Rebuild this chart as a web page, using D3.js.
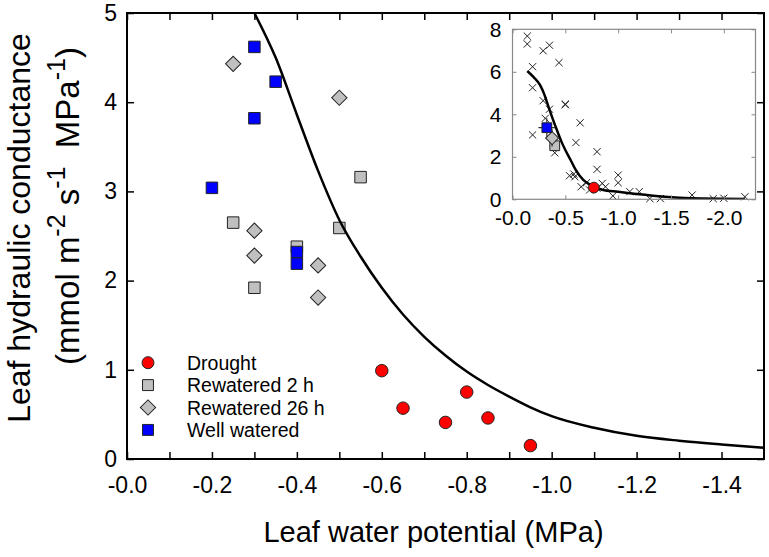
<!DOCTYPE html>
<html>
<head>
<meta charset="utf-8">
<script src="https://cdn.jsdelivr.net/npm/d3@7"></script>
<style>
    body { margin: 0; background: #fff; }
    svg { display: block; font-family: "Liberation Sans", Arial, sans-serif; }
</style>
</head>
<body>
<div class="chart"></div>
<script>
// Data - main panel (leaf water potential in MPa, conductance in mmol m-2 s-1 MPa-1)
const droughtPsi = [-0.60, -0.65, -0.75, -0.80, -0.85, -0.95];
const droughtK = [0.99, 0.57, 0.41, 0.75, 0.46, 0.15];
const rewatered2Psi = [-0.55, -0.25, -0.50, -0.40, -0.30];
const rewatered2K = [3.16, 2.65, 2.59, 2.38, 1.92];
const rewatered26Psi = [-0.25, -0.50, -0.30, -0.30, -0.45, -0.45];
const rewatered26K = [4.43, 4.05, 2.56, 2.28, 2.17, 1.81];
const wellPsi = [-0.30, -0.35, -0.30, -0.20, -0.40, -0.40];
const wellK = [4.62, 4.23, 3.82, 3.04, 2.32, 2.19];

// fitted curve
const fitPsi = [-0.30, -0.35, -0.40, -0.45, -0.50, -0.55, -0.60, -0.65, -0.70, -0.75, -0.80, -0.85, -0.90, -0.95, -1.00, -1.10, -1.20, -1.30, -1.40, -1.50];
const fitK = [5.00, 4.50, 3.86, 3.23, 2.68, 2.27, 1.92, 1.62, 1.37, 1.16, 0.98, 0.83, 0.70, 0.58, 0.48, 0.35, 0.26, 0.205, 0.163, 0.127];

// Data - inset (other data as crosses, group means with error bars)
const otherPsi = [-0.14, -0.14, -0.29, -0.35, -0.19, -0.44, -0.19, -0.29, -0.35, -0.50, -0.50, -0.31, -0.19, -0.64, -0.60, -0.40, -0.80, -0.54, -0.59, -0.58, -0.65, -0.80, -0.70, -1.00, -1.00, -0.95, -0.88, -0.85, -0.80, -0.73, -1.11, -1.20, -1.30, -1.40, -1.70, -1.90, -2.00, -2.20];
const otherK = [7.68, 7.31, 6.99, 7.25, 6.24, 6.43, 5.25, 4.64, 4.24, 4.48, 4.45, 3.81, 3.03, 3.60, 2.67, 2.19, 2.24, 1.11, 1.06, 1.19, 0.59, 1.41, 0.78, 1.14, 0.78, 0.16, 0.59, 0.75, 0.52, 0.44, 0.36, 0.36, 0.03, 0.03, 0.20, 0.03, 0.05, 0.12];
const insetFitPsi = [-0.14, -0.20, -0.26, -0.30, -0.34, -0.38, -0.42, -0.46, -0.50, -0.55, -0.60, -0.67, -0.75, -0.85, -1.00, -1.33, -1.70, -2.20];
const insetFitK = [6.04, 5.75, 5.38, 4.95, 4.36, 3.80, 3.26, 2.75, 2.32, 1.85, 1.37, 0.91, 0.64, 0.45, 0.35, 0.17, 0.05, 0.02];

const groups = ['Drought', 'Rewatered 2 h', 'Rewatered 26 h', 'Well watered'];
const groupFill = ['#ff0000', '#c0c0c0', '#c0c0c0', '#0000ff'];
const groupShape = ['circle', 'square', 'diamond', 'square'];
const meanPsi = [-0.77, -0.40, -0.375, -0.325];
const meanK = [0.55, 2.52, 2.88, 3.37];
const meanPsiErr = [0.05, 0.05, 0.05, 0.08];
const meanKErr = [0.10, 0.25, 0.40, 0.45];
// draw order of the inset means (blue on top)
const meanOrder = [0, 1, 2, 3];

// Ticks
const xTicksMain = [-0.0, -0.1, -0.2, -0.3, -0.4, -0.5, -0.6, -0.7, -0.8, -0.9, -1.0, -1.1, -1.2, -1.3, -1.4];
const xLabelsMain = ['-0.0', '', '-0.2', '', '-0.4', '', '-0.6', '', '-0.8', '', '-1.0', '', '-1.2', '', '-1.4'];
const yTicksMain = [0, 1, 2, 3, 4, 5];
const xTicksInset = [-0.0, -0.5, -1.0, -1.5, -2.0];
const xLabelsInset = ['-0.0', '-0.5', '-1.0', '-1.5', '-2.0'];
const yTicksInset = [0, 2, 4, 6, 8];

// Dimensions
const dimensions = {
    width: 769,
    height: 557,
    left: 127,
    right: 764,
    top: 13,
    bottom: 459
};
const inset = { left: 512.5, right: 755.5, top: 29.3, bottom: 199.3 };

const svg = d3.select('.chart')
    .append('svg')
    .attr('width', dimensions.width)
    .attr('height', dimensions.height);

// Scales
const xScale = d3.scaleLinear().domain([0, -1.5]).range([dimensions.left, dimensions.right]);
const yScale = d3.scaleLinear().domain([0, 5]).range([dimensions.bottom, dimensions.top]);
const xInset = d3.scaleLinear().domain([0, -2.3]).range([inset.left, inset.right]);
const yInset = d3.scaleLinear().domain([0, 8]).range([inset.bottom, inset.top]);

function symbolPath(shape, size) {
    if (shape === 'circle') return d3.symbol().type(d3.symbolCircle).size(Math.PI * size * size / 4)();
    return d3.symbol().type(d3.symbolSquare).size(size * size)();
}
const shapeSize = { circle: 12.5, square: 11.5, diamond: 10.8 };
const rotation = shape => shape === 'diamond' ? 45 : 0;

function drawPoints(g, psi, k, gi, xs, ys, scale = 1) {
    const shape = groupShape[gi];
    g.append('g').selectAll('path')
        .data(psi.map((p, i) => ({ psi: p, k: k[i] })))
        .join('path')
        .attr('d', symbolPath(shape, shapeSize[shape] * scale))
        .attr('transform', d => `translate(${xs(d.psi)},${ys(d.k)}) rotate(${rotation(shape)})`)
        .attr('fill', groupFill[gi])
        .attr('stroke', '#222')
        .attr('stroke-width', 1);
}

// ---------- Main panel ----------
const main = svg.append('g');

drawPoints(main, droughtPsi, droughtK, 0, xScale, yScale);
drawPoints(main, rewatered2Psi, rewatered2K, 1, xScale, yScale);
drawPoints(main, rewatered26Psi, rewatered26K, 2, xScale, yScale);
drawPoints(main, wellPsi, wellK, 3, xScale, yScale);

const fitLine = d3.line()
    .x(d => xScale(d[0]))
    .y(d => yScale(d[1]))
    .curve(d3.curveMonotoneX);
main.append('path')
    .datum(fitPsi.map((p, i) => [p, fitK[i]]))
    .attr('d', fitLine)
    .attr('fill', 'none')
    .attr('stroke', '#000')
    .attr('stroke-width', 2.5);

// Axes (inward ticks on all four sides)
const xAxis = d3.axisBottom(xScale)
    .tickValues(xTicksMain)
    .tickSize(-7)
    .tickPadding(18)
    .tickFormat((d, i) => xLabelsMain[i]);
const xAxisGroup = main.append('g')
    .attr('transform', `translate(0, ${dimensions.bottom})`)
    .call(xAxis);

const yAxis = d3.axisLeft(yScale)
    .tickValues(yTicksMain)
    .tickSize(-7)
    .tickPadding(10)
    .tickFormat(d3.format('d'));
const yAxisGroup = main.append('g')
    .attr('transform', `translate(${dimensions.left}, 0)`)
    .call(yAxis);

main.append('g')
    .attr('transform', `translate(0, ${dimensions.top})`)
    .call(d3.axisTop(xScale).tickValues(xTicksMain).tickSize(-7).tickFormat(''));
main.append('g')
    .attr('transform', `translate(${dimensions.right}, 0)`)
    .call(d3.axisRight(yScale).tickValues(yTicksMain).tickSize(-7).tickFormat(''));

main.selectAll('.domain').remove();
main.selectAll('.tick line').attr('stroke', '#000').attr('stroke-width', 1.5);
main.selectAll('.tick text').attr('font-size', 23).attr('fill', '#000');

main.append('rect')
    .attr('x', dimensions.left)
    .attr('y', dimensions.top)
    .attr('width', dimensions.right - dimensions.left)
    .attr('height', dimensions.bottom - dimensions.top)
    .attr('fill', 'none')
    .attr('stroke', '#000')
    .attr('stroke-width', 2);

// Axis titles
svg.append('text')
    .attr('x', (dimensions.left + dimensions.right) / 2 - 12)
    .attr('y', 542)
    .attr('text-anchor', 'middle')
    .attr('font-size', 29)
    .text('Leaf water potential (MPa)');

svg.append('text')
    .attr('transform', 'translate(30, 228) rotate(-90)')
    .attr('text-anchor', 'middle')
    .attr('font-size', 32)
    .text('Leaf hydraulic conductance');

const yTitle2 = svg.append('text')
    .attr('transform', 'translate(79, 206) rotate(-90)')
    .attr('text-anchor', 'middle')
    .attr('font-size', 33)
    .style('white-space', 'pre');
const supSize = 25;
yTitle2.append('tspan').text('(mmol m');
yTitle2.append('tspan').attr('dy', -14).attr('font-size', supSize).text('-2');
yTitle2.append('tspan').attr('dy', 14).text(' s');
yTitle2.append('tspan').attr('dy', -14).attr('font-size', supSize).text('-1');
yTitle2.append('tspan').attr('dy', 14).text('\u00a0 MPa');
yTitle2.append('tspan').attr('dy', -14).attr('font-size', supSize).text('-1');
yTitle2.append('tspan').attr('dy', 14).text(')');

// Legend
const legend = svg.append('g').attr('transform', 'translate(148, 362.7)');
const legendRows = legend.selectAll('g')
    .data(groups)
    .join('g')
    .attr('transform', (d, i) => `translate(0, ${i * 22.4})`);
legendRows.append('path')
    .attr('d', (d, i) => symbolPath(groupShape[i], shapeSize[groupShape[i]] * (groupShape[i] === 'diamond' ? 1 : 0.95)))
    .attr('transform', (d, i) => `rotate(${rotation(groupShape[i])})`)
    .attr('fill', (d, i) => groupFill[i])
    .attr('stroke', '#222');
legendRows.append('text')
    .attr('x', 39)
    .attr('y', 7)
    .attr('font-size', 19.5)
    .text(d => d);

// ---------- Inset ----------
const ins = svg.append('g');

ins.append('g').selectAll('path')
    .data(otherPsi.map((p, i) => ({ psi: p, k: otherK[i] })))
    .join('path')
    .attr('d', 'M-3.6,-3.6L3.6,3.6M-3.6,3.6L3.6,-3.6')
    .attr('transform', d => `translate(${xInset(d.psi)},${yInset(d.k)})`)
    .attr('stroke', '#222')
    .attr('stroke-width', 1);

const insetLine = d3.line()
    .x(d => xInset(d[0]))
    .y(d => yInset(d[1]))
    .curve(d3.curveMonotoneX);
ins.append('path')
    .datum(insetFitPsi.map((p, i) => [p, insetFitK[i]]))
    .attr('d', insetLine)
    .attr('fill', 'none')
    .attr('stroke', '#000')
    .attr('stroke-width', 2.5);

// group means with error bars
const means = ins.append('g').selectAll('g')
    .data(meanOrder)
    .join('g');
means.append('path')
    .attr('d', i => {
        const x = xInset(meanPsi[i]), y = yInset(meanK[i]);
        const x0 = xInset(meanPsi[i] + meanPsiErr[i]), x1 = xInset(meanPsi[i] - meanPsiErr[i]);
        const y0 = yInset(meanK[i] - meanKErr[i]), y1 = yInset(meanK[i] + meanKErr[i]);
        return `M${x0},${y}H${x1}M${x},${y0}V${y1}`;
    })
    .attr('stroke', '#333')
    .attr('stroke-width', 1.2);
means.append('path')
    .attr('d', i => symbolPath(groupShape[i], shapeSize[groupShape[i]] * 0.85))
    .attr('transform', i => `translate(${xInset(meanPsi[i])},${yInset(meanK[i])}) rotate(${rotation(groupShape[i])})`)
    .attr('fill', i => groupFill[i])
    .attr('stroke', '#222');

ins.append('g')
    .attr('transform', `translate(0, ${inset.bottom})`)
    .call(d3.axisBottom(xInset).tickValues(xTicksInset).tickSize(-4).tickPadding(11)
        .tickFormat((d, i) => xLabelsInset[i]));
ins.append('g')
    .attr('transform', `translate(${inset.left}, 0)`)
    .call(d3.axisLeft(yInset).tickValues(yTicksInset).tickSize(-4).tickPadding(11)
        .tickFormat(d3.format('d')));
ins.append('g')
    .attr('transform', `translate(0, ${inset.top})`)
    .call(d3.axisTop(xInset).tickValues(xTicksInset).tickSize(-4).tickFormat(''));
ins.append('g')
    .attr('transform', `translate(${inset.right}, 0)`)
    .call(d3.axisRight(yInset).tickValues(yTicksInset).tickSize(-4).tickFormat(''));

ins.selectAll('.domain').remove();
ins.selectAll('.tick line').attr('stroke', '#888');
ins.selectAll('.tick text').attr('font-size', 21).attr('fill', '#000');

ins.append('rect')
    .attr('x', inset.left)
    .attr('y', inset.top)
    .attr('width', inset.right - inset.left)
    .attr('height', inset.bottom - inset.top)
    .attr('fill', 'none')
    .attr('stroke', '#888')
    .attr('stroke-width', 1.2);
</script>
</body>
</html>
